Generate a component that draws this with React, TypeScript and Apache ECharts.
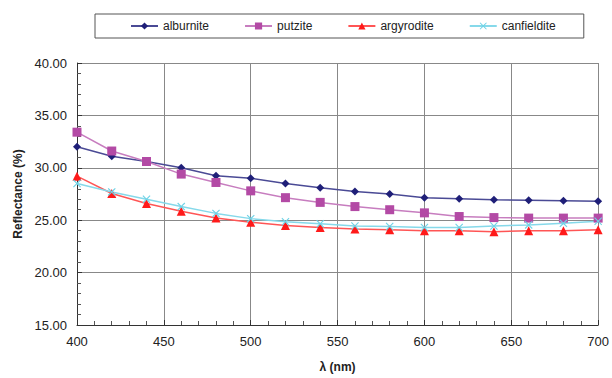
import React, { useEffect, useRef } from "react";
import * as echarts from "echarts";

const wavelengths = [400, 420, 440, 460, 480, 500, 520, 540, 560, 580, 600, 620, 640, 660, 680, 700];
const alburnite = [32.0, 31.1, 30.6, 30.0, 29.25, 29.0, 28.5, 28.1, 27.75, 27.5, 27.15, 27.05, 26.95, 26.9, 26.85, 26.8];
const putzite = [33.4, 31.6, 30.6, 29.4, 28.6, 27.8, 27.15, 26.7, 26.3, 26.0, 25.7, 25.35, 25.25, 25.2, 25.2, 25.2];
const argyrodite = [29.2, 27.55, 26.6, 25.85, 25.2, 24.8, 24.5, 24.3, 24.15, 24.1, 24.0, 24.0, 23.9, 24.0, 24.0, 24.1];
const canfieldite = [28.5, 27.7, 27.0, 26.3, 25.65, 25.15, 24.85, 24.65, 24.45, 24.4, 24.3, 24.3, 24.45, 24.55, 24.7, 24.9];
const seriesNames = ["alburnite", "putzite", "argyrodite", "canfieldite"];

const xSymbol = "path://M0,1L1,0L5,4L9,0L10,1L6,5L10,9L9,10L5,6L1,10L0,9L4,5Z";

export default function App() {
  const ref = useRef<HTMLDivElement>(null);
  useEffect(() => {
    if (!ref.current) return;
    const chart = echarts.init(ref.current, null, { renderer: "svg" });
    const mk = (name: string, vals: number[], color: string, lineColor: string, symbol: string, size: number) => ({
      name,
      type: "line",
      data: wavelengths.map((w, i) => [w, vals[i]]),
      symbol,
      symbolSize: size,
      lineStyle: { color: lineColor, width: 1.5 },
      itemStyle: { color, borderColor: color, borderWidth: 0 },
      showSymbol: true,
      z: 3,
    });
    chart.setOption({
      animation: false,
      backgroundColor: "#fff",
      textStyle: { fontFamily: "Liberation Sans, Arial, sans-serif" },
      legend: {
        data: seriesNames,
        left: 95,
        top: 14,
        padding: [6, 28, 6, 35],
        itemGap: 35,
        itemWidth: 27,
        itemHeight: 9,
        borderColor: "#555",
        borderWidth: 1,
        textStyle: { fontSize: 12, color: "#222", fontFamily: "Liberation Sans, Arial, sans-serif" },
      },
      grid: { left: 77, right: 9, top: 63, bottom: 50, containLabel: false },
      xAxis: {
        type: "value",
        min: 400,
        max: 700,
        interval: 50,
        name: "λ (nm)",
        nameLocation: "middle",
        nameGap: 36,
        nameTextStyle: { fontSize: 12, fontWeight: "bold", color: "#222" },
        axisLine: { show: true, lineStyle: { color: "#333", width: 1 } },
        axisTick: { show: true, inside: true, length: 5, lineStyle: { color: "#333" } },
        minorTick: { show: true, splitNumber: 5, length: 4, lineStyle: { color: "#555" } },
        axisLabel: { fontSize: 13, color: "#222", margin: 10 },
        splitLine: { show: true, lineStyle: { color: "#888", width: 1 } },
      },
      yAxis: {
        type: "value",
        min: 15,
        max: 40,
        interval: 5,
        name: "Reflectance (%)",
        nameLocation: "middle",
        nameRotate: 90,
        nameGap: 52,
        nameTextStyle: { fontSize: 12, fontWeight: "bold", color: "#222" },
        axisLine: { show: true, lineStyle: { color: "#333", width: 1 } },
        axisTick: { show: true, inside: true, length: 5, lineStyle: { color: "#333" } },
        minorTick: { show: true, splitNumber: 5, length: 4, lineStyle: { color: "#555" } },
        axisLabel: { fontSize: 13, color: "#222", margin: 10, formatter: (v: number) => v.toFixed(2) },
        splitLine: { show: true, lineStyle: { color: "#888", width: 1 } },
      },
      series: [
        mk("alburnite", alburnite, "#1f1f78", "#4a4a95", "diamond", 8),
        mk("putzite", putzite, "#b34aa5", "#c77dbf", "rect", 9),
        mk("argyrodite", argyrodite, "#ff1a1a", "#ff5555", "triangle", 9),
        mk("canfieldite", canfieldite, "#6fd3e6", "#86d9ea", xSymbol, 8),
      ],
    });
    return () => chart.dispose();
  }, []);
  return <div ref={ref} style={{ position: "absolute", left: 0, top: 0, width: 612, height: 378 }} />;
}
